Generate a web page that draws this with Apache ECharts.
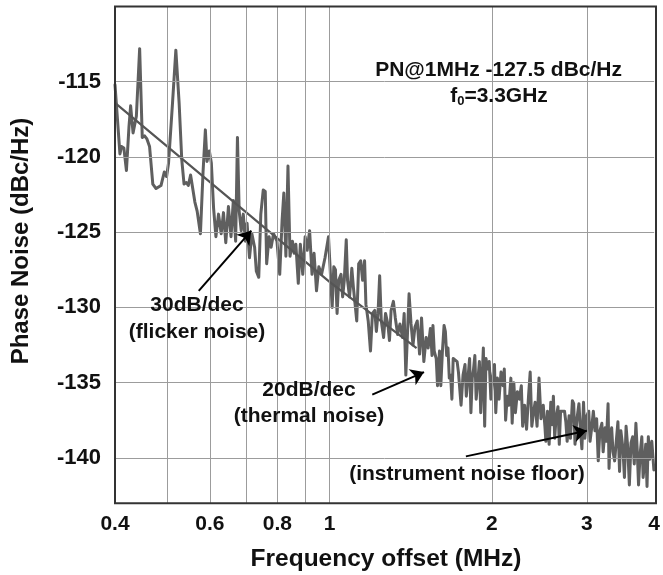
<!DOCTYPE html>
<html>
<head>
<meta charset="utf-8">
<script src="https://cdn.jsdelivr.net/npm/echarts@6/dist/echarts.min.js"></script>
<style>
  html, body { margin: 0; padding: 0; background: #fff; }
  #chart { width: 663px; height: 575px; }
</style>
</head>
<body>
<div id="chart"></div>
<script>
const traceLow = [
  [0.400,-115.2],[0.4085,-119.8],[0.4113,-119.3],[0.4154,-119.4],[0.4200,-120.9],[0.4246,-118.0],
  [0.4276,-116.6],[0.4321,-118.4],[0.4352,-118.5],[0.4382,-117.3],[0.4444,-112.8],[0.4494,-118.7],
  [0.4539,-118.6],[0.4584,-118.8],[0.4636,-119.3],[0.4701,-121.8],[0.4767,-122.1],[0.4868,-121.9],
  [0.4937,-121.0],[0.4986,-121.3],[0.5028,-120.4],[0.5114,-116.4],[0.5187,-112.9],[0.5260,-116.4],
  [0.5320,-120.2],[0.5372,-121.8],[0.5425,-121.7],[0.5471,-121.9],[0.5524,-121.2],[0.5563,-121.1],
  [0.5626,-123.0],[0.5681,-123.6],[0.5761,-125.1],[0.5826,-121.0],[0.5884,-118.2],[0.5925,-120.3],
  [0.5985,-119.6],[0.6036,-120.4],[0.6094,-123.4],[0.6155,-125.3],[0.6224,-123.8],[0.6296,-125.1],
  [0.6357,-123.7],[0.6420,-125.7],[0.6493,-123.3],[0.6565,-125.3],[0.6630,-122.9],[0.6696,-125.6]
];
const traceMid = [
  [0.6748,-118.7],[0.6798,-123.6],[0.6858,-124.9],[0.6918,-123.8],[0.6980,-125.6],[0.7031,-124.4],
  [0.7104,-126.7],[0.7177,-125.1],[0.7261,-126.0],[0.7315,-127.6],[0.7391,-128.0],[0.7456,-123.8],
  [0.7533,-122.2],[0.7599,-122.3],[0.7644,-127.1],[0.7724,-125.3],[0.7791,-126.0],[0.7872,-125.1],
  [0.7988,-125.6],[0.8083,-127.8],[0.8166,-124.2],[0.8226,-122.4],[0.8299,-126.6],[0.8373,-120.6],
  [0.8447,-126.6],[0.8534,-125.6],[0.8597,-126.4],[0.8660,-125.8],[0.8750,-128.4],[0.8827,-125.8],
  [0.8919,-127.8],[0.9011,-125.3],[0.9090,-126.2],[0.9183,-124.9],[0.9279,-127.8],[0.9360,-126.4],
  [0.9458,-128.9],[0.9552,-127.3],[0.9666,-127.8],[0.9808,-126.7],[0.9955,-125.3]
];
const traceKnee = [
  [1.0014,-125.4],[1.0112,-130.0],[1.0183,-127.3],[1.0255,-127.5],[1.0327,-130.4],[1.0399,-128.2],
  [1.0502,-127.8],[1.0575,-129.3],[1.0649,-128.2],[1.0739,-125.5],[1.0799,-128.2],[1.0890,-129.3],
  [1.0998,-127.4],[1.1074,-128.7],[1.1153,-129.8],[1.1231,-130.9],[1.1325,-127.1],[1.1421,-126.9],
  [1.1517,-128.2],[1.1614,-126.9],[1.1680,-129.8],[1.1795,-130.9],[1.1911,-132.9],[1.2011,-130.4],
  [1.2129,-130.2],[1.2214,-131.6],[1.2300,-130.4],[1.2386,-127.9],[1.2473,-130.9],[1.2596,-132.0],
  [1.2701,-130.4],[1.2826,-131.1],[1.2916,-132.2],[1.3006,-130.2],[1.3135,-129.6],[1.3243,-130.7],
  [1.3375,-131.8],[1.3506,-131.1],[1.3658,-132.0],[1.3753,-130.4],[1.3851,-134.5],[1.3947,-131.8],
  [1.4044,-129.1],[1.4163,-131.1],[1.4281,-132.5],[1.4402,-131.3],[1.4543,-130.9],[1.4689,-133.1],
  [1.4812,-130.7],[1.4958,-133.6],[1.5106,-132.0],[1.5234,-132.7],[1.5383,-131.4],[1.5490,-133.2]
];
const traceThermal = [
  [1.5552,-131.2],[1.5638,-132.9],[1.5771,-133.4],[1.5858,-135.2],[1.5993,-132.9],[1.6082,-135.2],
  [1.6194,-132.9],[1.6309,-131.2],[1.6400,-131.6],[1.6491,-133.2],[1.6583,-132.7],[1.6676,-134.7],
  [1.6769,-134.5],[1.6862,-136.1],[1.6957,-133.4],[1.7099,-133.5],[1.7243,-133.6],[1.7340,-134.3],
  [1.7437,-134.3],[1.7535,-136.5],[1.7683,-134.5],[1.7833,-133.8],[1.7933,-135.9],[1.8059,-134.7],
  [1.8187,-133.4],[1.8289,-137.0],[1.8392,-134.7],[1.8495,-134.1],[1.8599,-133.2],[1.8704,-136.1],
  [1.8835,-134.9],[1.8964,-133.6],[1.9071,-137.0],[1.9178,-134.9],[1.9286,-132.7],[1.9395,-137.9],
  [1.9504,-133.4],[1.9641,-134.1],[1.9777,-133.6],[1.9916,-136.1],[2.0056,-134.7],[2.0224,-133.8],
  [2.0337,-137.0],[2.0480,-134.7],[2.0624,-136.1],[2.0798,-134.3],[2.0973,-135.2],[2.1091,-134.1],
  [2.1210,-137.5],[2.1359,-135.9],[2.1510,-136.5],[2.1691,-134.7],[2.1813,-137.7],[2.1967,-135.0],
  [2.2118,-137.0],[2.2305,-135.6],[2.2493,-136.1],[2.2682,-135.2],[2.2810,-137.9],[2.3003,-136.5],
  [2.3197,-138.1],[2.3392,-135.9],[2.3557,-134.3],[2.3722,-137.9],[2.3889,-137.0],[2.4057,-136.3],
  [2.4259,-137.9],[2.4462,-134.7],[2.4668,-137.4],[2.4910,-136.5],[2.5086,-137.9]
];
const traceFloor = [
  [2.5188,-138.9],[2.5365,-136.9],[2.5543,-139.1],[2.5722,-136.3],[2.5866,-137.8],[2.6011,-135.9],
  [2.6157,-138.7],[2.6303,-137.4],[2.6525,-136.6],[2.6674,-139.1],[2.6824,-136.9],[2.7050,-136.8],
  [2.7278,-136.9],[2.7431,-137.6],[2.7585,-138.9],[2.7818,-137.2],[2.7974,-138.7],[2.8210,-136.2],
  [2.8368,-136.4],[2.8528,-139.1],[2.8768,-137.4],[2.9010,-136.4],[2.9173,-138.0],[2.9378,-139.4],
  [2.9584,-136.3],[2.9749,-138.7],[3.0000,-137.2],[3.0252,-136.9],[3.0421,-138.9],[3.0635,-138.0],
  [3.0851,-136.9],[3.1068,-138.2],[3.1287,-137.4],[3.1504,-140.2],[3.1726,-138.2],[3.1993,-137.7],
  [3.2172,-139.6],[3.2443,-138.0],[3.2624,-138.9],[3.2853,-136.4],[3.2991,-140.7],[3.3176,-138.5],
  [3.3362,-138.0],[3.3550,-139.6],[3.3786,-140.2],[3.4023,-138.9],[3.4262,-137.6],[3.4503,-140.9],
  [3.4696,-138.2],[3.4988,-139.3],[3.5233,-141.3],[3.5480,-137.9],[3.5729,-139.3],[3.5980,-141.8],
  [3.6233,-139.0],[3.6487,-138.6],[3.6743,-140.4],[3.7001,-137.7],[3.7209,-139.5],[3.7418,-141.8],
  [3.7681,-139.7],[3.7945,-138.6],[3.8158,-141.3],[3.8371,-140.4],[3.8584,-139.1],[3.8800,-141.9],
  [3.9017,-138.6],[3.9239,-140.1],[3.9600,-138.9],[3.9950,-140.8]
];

// straight slope line drawn over the trace
const fitFreq = [0.4, 1.0, 1.45];
const fitDb = [-116.4, -128.3, -132.7];

const xTickLabels = [0.4, 0.6, 0.8, 1, 2, 3, 4];
const xGridFreq = [0.5, 0.6, 0.7, 0.8, 0.9, 1, 2, 3];
const yTickLabels = [-115, -120, -125, -130, -135, -140];

// annotation arrows: [fromMHz, fromDb, toMHz, toDb]
const arrows = [
  [0.572, -128.9, 0.716, -124.9],
  [1.20, -135.8, 1.497, -134.3],
  [1.79, -139.9, 3.0, -138.2]
];

const FONT = '"Liberation Sans", Arial, sans-serif';
const chart = echarts.init(document.getElementById('chart'));

const trace = [].concat(traceLow, traceMid, traceKnee, traceThermal, traceFloor);
const fit = fitFreq.map((f, i) => [f, fitDb[i]]);

function label(text, x, y, size) {
  return {
    type: 'text', x: x, y: y, z: 6,
    style: {
      text: text, font: 'bold ' + (size || 21) + 'px ' + FONT, fill: '#111',
      textAlign: 'center', textVerticalAlign: 'middle', align: 'center', verticalAlign: 'middle'
    }
  };
}
function whiteBox(x, y, w, h) {
  return { type: 'rect', z: 2, shape: { x: x, y: y, width: w, height: h }, style: { fill: '#fff' } };
}

const option = {
  animation: false,
  grid: { left: 115, right: 7, top: 6.5, bottom: 72 },
  xAxis: {
    type: 'log',
    logBase: 10,
    min: 0.4,
    max: 4,
    axisLine: { show: false },
    axisTick: { show: false },
    splitLine: { show: false },
    axisLabel: {
      customValues: xTickLabels,
      formatter: v => String(+(+v).toFixed(1)),
      fontSize: 21, fontWeight: 'bold', fontFamily: FONT, color: '#111', margin: 11
    }
  },
  yAxis: {
    type: 'value',
    min: -143,
    max: -110,
    axisLine: { show: false },
    axisTick: { show: false },
    splitLine: { show: false },
    axisLabel: {
      customValues: yTickLabels,
      fontSize: 22, fontWeight: 'bold', fontFamily: FONT, color: '#111', margin: 14
    }
  },
  series: [
    {
      // grid lines
      type: 'line', data: [], z: 1, silent: true,
      markLine: {
        silent: true, symbol: 'none', label: { show: false },
        lineStyle: { color: '#9c9c9c', width: 1, type: 'solid' },
        data: xGridFreq.map(f => ({ xAxis: f })).concat(yTickLabels.map(v => ({ yAxis: v })))
      }
    },
    {
      name: 'trace', type: 'line', data: trace, z: 3, symbol: 'none',
      lineStyle: { color: '#5f5f5f', width: 3, join: 'round', cap: 'round' }
    },
    {
      name: 'fit', type: 'line', data: fit, z: 4, symbol: 'none',
      lineStyle: { color: '#555', width: 2.2 }
    },
    {
      type: 'line', data: [], z: 5, silent: true,
      markLine: {
        silent: true, symbol: ['none', 'arrow'], symbolSize: 13, label: { show: false },
        lineStyle: { color: '#000', width: 2, type: 'solid' },
        data: arrows.map(a => [{ coord: [a[0], a[1]] }, { coord: [a[2], a[3]] }])
      }
    }
  ],
  graphic: [
    whiteBox(364, 8.5, 264, 107),
    whiteBox(116, 284, 159, 64),
    whiteBox(222, 370, 170, 64),
    whiteBox(333, 442, 269, 58),
    label('PN@1MHz -127.5 dBc/Hz', 498.6, 70),
    {
      type: 'text', x: 499, y: 96, z: 6,
      style: {
        text: '{a|f}{b|0}{a|=3.3GHz}',
        rich: {
          a: { font: 'bold 21px ' + FONT, fill: '#111', lineHeight: 24 },
          b: { font: 'bold 13px ' + FONT, fill: '#111', lineHeight: 24, padding: [10, 0, 0, 0] }
        },
        textAlign: 'center', textVerticalAlign: 'middle', align: 'center', verticalAlign: 'middle'
      }
    },
    label('30dB/dec', 197, 305),
    label('(flicker noise)', 197, 332),
    label('20dB/dec', 309, 390),
    label('(thermal noise)', 309, 416.5),
    label('(instrument noise floor)', 467, 474),
    label('Frequency offset (MHz)', 386, 559, 24.5),
    Object.assign(label('Phase Noise (dBc/Hz)', 21, 241, 24), { rotation: Math.PI / 2 }),
    {
      type: 'rect', z: 10,
      shape: { x: 115, y: 6.5, width: 541, height: 496.8 },
      style: { fill: null, stroke: '#333', lineWidth: 2 }
    }
  ]
};

chart.setOption(option);
</script>
</body>
</html>
